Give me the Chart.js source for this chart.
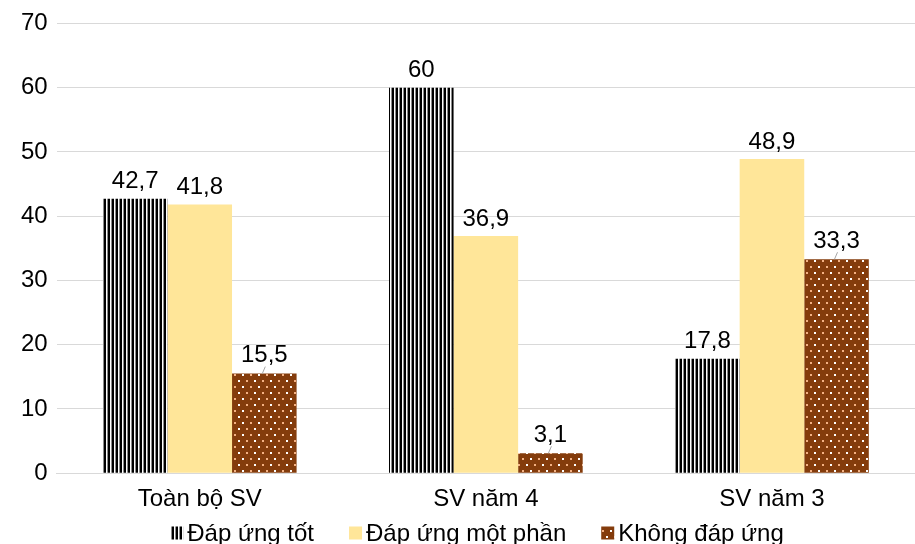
<!DOCTYPE html>
<html>
<head>
<meta charset="utf-8">
<script src="https://cdn.jsdelivr.net/npm/chart.js@4/dist/chart.umd.min.js"></script>
<style>
  html, body { margin: 0; padding: 0; background: #fff; }
  #wrap { width: 915px; height: 544px; }
</style>
</head>
<body>
<div id="wrap"><canvas id="c"></canvas></div>
<script>
// ── DATA ──
const categories = ['Toàn bộ SV', 'SV năm 4', 'SV năm 3'];
const seriesNames = ['Đáp ứng tốt', 'Đáp ứng một phần', 'Không đáp ứng'];
const tot     = [42.7, 60, 17.8];
const motPhan = [41.8, 36.9, 48.9];
const khong   = [15.5, 3.1, 33.3];
const yTicks  = [0, 10, 20, 30, 40, 50, 60, 70];

const FONT = "'Liberation Sans', Arial, sans-serif";
const FS = 24;

// ── PATTERNS ──
function stripePattern() {
  const cv = document.createElement('canvas');
  cv.width = 4; cv.height = 4;
  const g = cv.getContext('2d');
  g.fillStyle = '#ffffff'; g.fillRect(0, 0, 4, 4);
  g.fillStyle = '#000000'; g.fillRect(0, 0, 2, 4);
  g.fillStyle = '#8c8c8c'; g.fillRect(3, 0, 1, 4);
  return g.createPattern(cv, 'repeat');
}
function dotPattern() {
  const cv = document.createElement('canvas');
  cv.width = 16; cv.height = 12;
  const g = cv.getContext('2d');
  g.fillStyle = '#843c0c'; g.fillRect(0, 0, 16, 12);
  g.fillStyle = '#ffffff';   g.fillRect(2, 2, 2, 2);
  g.fillStyle = '#f4b183';   g.fillRect(10, 2, 2, 2);
  g.fillStyle = '#f4b183';   g.fillRect(6, 8, 2, 2);
  g.fillStyle = '#ffffff';   g.fillRect(14, 8, 2, 2);
  return g.createPattern(cv, 'repeat');
}
const fills = [stripePattern(), '#ffe699', dotPattern()];

// ── DATA LABELS ──
const labelPlugin = {
  id: 'labelPlugin',
  afterDatasetsDraw(chart) {
    const { ctx } = chart;
    ctx.save();
    ctx.font = `${FS}px ${FONT}`;
    ctx.fillStyle = '#000';
    ctx.textAlign = 'center';
    ctx.textBaseline = 'middle';
    chart.data.datasets.forEach((ds, di) => {
      chart.getDatasetMeta(di).data.forEach((bar, i) => {
        const txt = String(ds.data[i]).replace('.', ',');
        let off = 17;
        if (di === 2) {
          off = 18;
          ctx.strokeStyle = '#a6a6a6';
          ctx.lineWidth = 1;
          ctx.beginPath();
          ctx.moveTo(bar.x - 2, bar.y);
          ctx.lineTo(bar.x + 1, bar.y - 7);
          ctx.stroke();
        }
        ctx.fillText(txt, bar.x, bar.y - off);
      });
    });
    ctx.restore();
  }
};

// ── LEGEND (bottom, centred like the original) ──
const legendPlugin = {
  id: 'legendPlugin',
  afterDraw(chart) {
    const { ctx } = chart;
    const box = 13, gapText = 4, gapItem = 35, cy = 533, cx = 477;
    ctx.save();
    ctx.font = `${FS}px ${FONT}`;
    const widths = seriesNames.map(t => ctx.measureText(t).width);
    const total = widths.reduce((a, w) => a + box + gapText + w, 0) + gapItem * (seriesNames.length - 1);
    let x = cx - total / 2;
    ctx.textBaseline = 'middle';
    ctx.textAlign = 'left';
    seriesNames.forEach((t, i) => {
      ctx.fillStyle = fills[i];
      ctx.fillRect(x, cy - box / 2, box, box);
      x += box + gapText;
      ctx.fillStyle = '#000';
      ctx.fillText(t, x, cy + 1);
      x += widths[i] + gapItem;
    });
    ctx.restore();
  }
};

function ds(label, data, fill) {
  return {
    label, data,
    backgroundColor: fill,
    borderWidth: 0,
    categoryPercentage: 0.677,
    barPercentage: 1.0,
  };
}

new Chart(document.getElementById('c'), {
  type: 'bar',
  data: {
    labels: categories,
    datasets: [
      ds(seriesNames[0], tot, fills[0]),
      ds(seriesNames[1], motPhan, fills[1]),
      ds(seriesNames[2], khong, fills[2]),
    ]
  },
  options: {
    responsive: true,
    maintainAspectRatio: false,
    animation: false,
    layout: { padding: { top: 13, right: 0, left: 12, bottom: 26 } },
    plugins: {
      tooltip: { enabled: false },
      legend: { display: false }
    },
    scales: {
      x: {
        grid: { display: false },
        border: { color: '#d9d9d9' },
        ticks: { color: '#000', font: { family: FONT, size: FS }, padding: 4 }
      },
      y: {
        min: 0, max: 70,
        afterBuildTicks: (axis) => { axis.ticks = yTicks.map(v => ({ value: v })); },
        grid: { color: '#d9d9d9', drawTicks: false },
        border: { display: false },
        ticks: { color: '#000', font: { family: FONT, size: FS }, padding: 9 }
      }
    }
  },
  plugins: [labelPlugin, legendPlugin]
});
</script>
</body>
</html>
